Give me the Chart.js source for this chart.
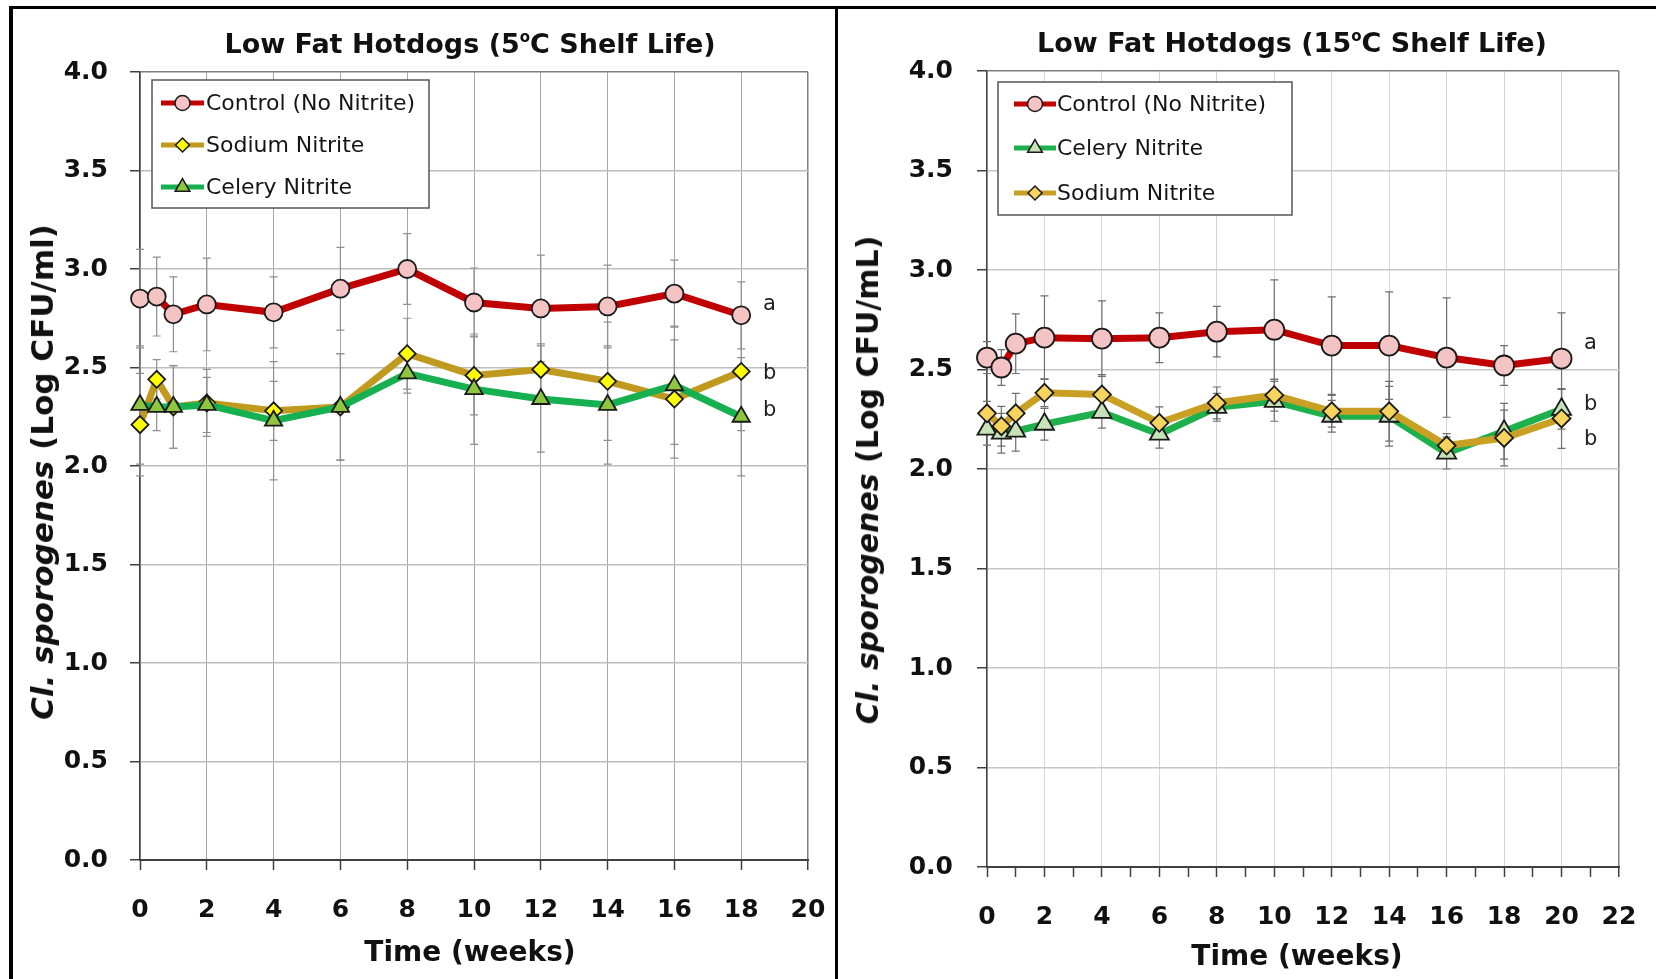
<!DOCTYPE html>
<html>
<head>
<meta charset="utf-8">
<script src="https://cdn.jsdelivr.net/npm/chart.js@4.4.1/dist/chart.umd.min.js"></script>
<style>
html,body{margin:0;padding:0;background:#fff;width:1656px;height:979px;overflow:hidden;}
canvas{position:absolute;top:0;}
.line{position:absolute;background:#000;}
.title{position:absolute;font-family:"DejaVu Sans";font-weight:bold;font-size:27px;line-height:27px;white-space:nowrap;transform:translateX(-50%);color:#111;}
.title sup{font-size:15px;line-height:0;position:relative;vertical-align:baseline;top:-11px;}
.xtitle{position:absolute;font-family:"DejaVu Sans";font-weight:bold;font-size:28px;line-height:28px;white-space:nowrap;transform:translateX(-50%);color:#111;}
.ytitle{position:absolute;font-family:"DejaVu Sans";font-weight:bold;font-size:30px;line-height:30px;white-space:nowrap;transform:translate(-50%,-50%) rotate(-90deg);color:#111;}
</style>
</head>
<body>
<canvas id="c5" width="836" height="979" style="left:0px;width:836px;height:979px;"></canvas>
<canvas id="c15" width="818" height="979" style="left:838px;width:818px;height:979px;"></canvas>

<div class="title" style="left:470px;top:30px;">Low Fat Hotdogs (5<sup>o</sup>C Shelf Life)</div>
<div class="title" style="left:1292px;top:29px;">Low Fat Hotdogs (15<sup>o</sup>C Shelf Life)</div>
<div class="xtitle" style="left:470px;top:938px;">Time (weeks)</div>
<div class="xtitle" style="left:1297px;top:942px;">Time (weeks)</div>
<div class="ytitle" style="left:42px;top:472px;font-size:31px;"><i>Cl. sporogenes</i> (Log CFU/ml)</div>
<div class="ytitle" style="left:868px;top:480px;"><i>Cl. sporogenes</i> (Log CFU/mL)</div>

<div class="line" style="left:9px;top:6px;width:1647px;height:3px;"></div>
<div class="line" style="left:9px;top:6px;width:4px;height:973px;"></div>
<div class="line" style="left:835px;top:6px;width:3px;height:973px;"></div>

<script>
// ---------- Data: 5 °C shelf life ----------
const weeks5   = [0, 0.5, 1, 2, 4, 6, 8, 10, 12, 14, 16, 18];
const control5 = [2.85, 2.86, 2.77, 2.82, 2.78, 2.90, 3.00, 2.83, 2.80, 2.81, 2.875, 2.765];
const sodium5  = [2.21, 2.44, 2.30, 2.32, 2.28, 2.30, 2.57, 2.46, 2.49, 2.43, 2.34, 2.48];
const celery5  = [2.31, 2.30, 2.30, 2.31, 2.23, 2.30, 2.47, 2.39, 2.34, 2.31, 2.41, 2.25];
const controlErr5 = [0.25, 0.20, 0.19, 0.235, 0.18, 0.21, 0.18, 0.175, 0.27, 0.21, 0.17, 0.17];
const sodiumErr5  = [0.26, 0.10, 0.21, 0.17, 0.15, 0.27, 0.18, 0.20, 0.13, 0.30, 0.30, 0.30];
const celeryErr5  = [0.30, 0.12, 0.21, 0.14, 0.30, 0.27, 0.10, 0.28, 0.27, 0.30, 0.30, 0.30];
const letters5 = ['a', 'b', 'b'];
const letterY5 = [2.82, 2.47, 2.28];
const letterX5 = 18.65;

// ---------- Data: 15 °C shelf life ----------
const weeks15   = [0, 0.5, 1, 2, 4, 6, 8, 10, 12, 14, 16, 18, 20];
const control15 = [2.56, 2.51, 2.63, 2.66, 2.655, 2.66, 2.69, 2.70, 2.62, 2.62, 2.56, 2.52, 2.555];
const celery15  = [2.20, 2.18, 2.19, 2.225, 2.285, 2.175, 2.31, 2.34, 2.265, 2.265, 2.08, 2.19, 2.30];
const sodium15  = [2.28, 2.215, 2.28, 2.383, 2.374, 2.232, 2.332, 2.371, 2.29, 2.29, 2.118, 2.156, 2.254];
const controlErr15 = [0.08, 0.09, 0.15, 0.21, 0.19, 0.125, 0.127, 0.25, 0.245, 0.27, 0.30, 0.10, 0.23];
const celeryErr15  = [0.08, 0.10, 0.10, 0.08, 0.08, 0.07, 0.07, 0.10, 0.08, 0.15, 0.08, 0.14, 0.10];
const sodiumErr15  = [0.06, 0.10, 0.10, 0.07, 0.10, 0.08, 0.08, 0.08, 0.08, 0.15, 0.06, 0.14, 0.15];
const letters15 = ['a', 'b', 'b'];
const letterY15 = [2.63, 2.324, 2.148];
const letterX15 = 20.78;

const yTickStep = 0.5;

Chart.defaults.font.family = 'DejaVu Sans';
Chart.defaults.color = '#111';

function pts(xs, ys) { return xs.map((x, i) => ({x: x, y: ys[i]})); }

function makeDs(label, xs, ys, errs, st) {
  return {
    label: label, data: pts(xs, ys), errors: errs,
    borderColor: st.line, backgroundColor: st.fill,
    pointBackgroundColor: st.fill, pointBorderColor: '#1a1a1a', pointBorderWidth: 1.8,
    pointRadius: st.r, pointHoverRadius: st.r, pointStyle: st.shape,
    borderWidth: 7, tension: 0, order: st.order, legendR: st.lr, clip: false
  };
}

function drawMarker(ctx, shape, x, y, r) {
  ctx.beginPath();
  if (shape === 'circle') { ctx.arc(x, y, r, 0, Math.PI * 2); }
  else if (shape === 'rectRot') { ctx.moveTo(x - r, y); ctx.lineTo(x, y - r); ctx.lineTo(x + r, y); ctx.lineTo(x, y + r); ctx.closePath(); }
  else if (shape === 'triangle') {
    for (let k = 0; k < 3; k++) {
      const a = k * 2 * Math.PI / 3;
      const px = x + Math.sin(a) * r, py = y - Math.cos(a) * r;
      if (k === 0) ctx.moveTo(px, py); else ctx.lineTo(px, py);
    }
    ctx.closePath();
  }
  ctx.fill(); ctx.stroke();
}

const errorBars = {
  id: 'errorBars',
  beforeDatasetsDraw(chart, args, opts) {
    const ctx = chart.ctx, xs = chart.scales.x, ys = chart.scales.y;
    ctx.save();
    ctx.strokeStyle = opts.color; ctx.lineWidth = 1.2;
    chart.data.datasets.forEach(ds => {
      if (!ds.errors) return;
      ds.data.forEach((p, i) => {
        const e = ds.errors[i];
        const px = xs.getPixelForValue(p.x);
        const y1 = ys.getPixelForValue(p.y + e), y2 = ys.getPixelForValue(p.y - e);
        ctx.beginPath();
        ctx.moveTo(px, y1); ctx.lineTo(px, y2);
        ctx.moveTo(px - 4, y1); ctx.lineTo(px + 4, y1);
        ctx.moveTo(px - 4, y2); ctx.lineTo(px + 4, y2);
        ctx.stroke();
      });
    });
    ctx.restore();
  }
};

const innerLegend = {
  id: 'innerLegend',
  afterDatasetsDraw(chart, args, opts) {
    const ctx = chart.ctx;
    ctx.save();
    const b = opts.box;
    ctx.fillStyle = '#fff'; ctx.fillRect(b[0], b[1], b[2], b[3]);
    ctx.strokeStyle = '#555'; ctx.lineWidth = 1.5; ctx.strokeRect(b[0], b[1], b[2], b[3]);
    chart.data.datasets.forEach((ds, i) => {
      const y = opts.rows[i];
      ctx.strokeStyle = ds.borderColor; ctx.lineWidth = 5; ctx.lineCap = 'butt';
      ctx.beginPath(); ctx.moveTo(opts.lineX[0], y); ctx.lineTo(opts.lineX[1], y); ctx.stroke();
      ctx.fillStyle = ds.pointBackgroundColor; ctx.strokeStyle = '#1a1a1a'; ctx.lineWidth = 1.5;
      drawMarker(ctx, ds.pointStyle, (opts.lineX[0] + opts.lineX[1]) / 2, y, ds.legendR);
      ctx.fillStyle = '#151515'; ctx.font = '22px "DejaVu Sans"'; ctx.textBaseline = 'middle'; ctx.textAlign = 'left';
      ctx.fillText(ds.label, opts.textX, y + 1);
    });
    ctx.restore();
  }
};

const sigLetters = {
  id: 'sigLetters',
  afterDatasetsDraw(chart, args, opts) {
    const ctx = chart.ctx, xs = chart.scales.x, ys = chart.scales.y;
    ctx.save();
    ctx.fillStyle = '#222'; ctx.font = '21px "DejaVu Sans"'; ctx.textBaseline = 'middle'; ctx.textAlign = 'left';
    opts.letters.forEach((t, i) => ctx.fillText(t, xs.getPixelForValue(opts.x), ys.getPixelForValue(opts.ys[i])));
    ctx.restore();
  }
};

function makeChart(id, datasets, cfg) {
  return new Chart(document.getElementById(id), {
    type: 'line',
    data: { datasets: datasets },
    options: {
      responsive: false, animation: false, devicePixelRatio: 1,
      layout: { autoPadding: false, padding: { left: 0, right: cfg.padRight, top: cfg.padTop, bottom: 0 } },
      plugins: {
        legend: { display: false }, tooltip: { enabled: false },
        errorBars: { color: cfg.errColor },
        innerLegend: cfg.legend,
        sigLetters: cfg.letters
      },
      scales: {
        x: {
          type: 'linear', min: 0, max: cfg.xMax,
          afterFit: s => { s.height = cfg.xAxisH; s.paddingLeft = 0; s.paddingRight = 0; },
          border: { display: true, color: '#404040', width: 2 },
          grid: {
            color: c => (c.tick.value % 2 !== 0 ? 'rgba(0,0,0,0)' : (c.tick.value === cfg.xMax ? '#7f7f7f' : cfg.vGrid)),
            lineWidth: c => (c.tick.value === cfg.xMax ? 1.5 : 1),
            tickColor: '#404040', tickLength: 10, tickWidth: 1.5
          },
          ticks: {
            stepSize: cfg.xStep, autoSkip: false, maxRotation: 0, padding: 25,
            font: { size: 25, weight: 'bold' }, color: '#111',
            callback: v => (v % 2 === 0 ? String(v) : '')
          }
        },
        y: {
          min: 0, max: 4,
          afterFit: s => { s.width = cfg.yAxisW; s.paddingTop = 0; s.paddingBottom = 0; },
          border: { display: true, color: '#404040', width: 1.5 },
          grid: {
            color: c => (c.tick.value === 4 ? '#7f7f7f' : cfg.hGrid),
            lineWidth: 1.5, tickColor: '#404040', tickLength: 10
          },
          ticks: {
            stepSize: yTickStep, padding: cfg.yPad,
            font: { size: 25, weight: 'bold' }, color: '#111',
            callback: v => v.toFixed(1)
          }
        }
      }
    },
    plugins: [errorBars, innerLegend, sigLetters]
  });
}

// 5 C chart (legend order: Control, Sodium, Celery; celery drawn on top)
makeChart('c5', [
  makeDs('Control (No Nitrite)', weeks5, control5, controlErr5, {line: '#C00000', fill: '#F4C4C4', shape: 'circle', r: 9, lr: 7.5, order: 2}),
  makeDs('Sodium Nitrite', weeks5, sodium5, sodiumErr5, {line: '#C09A1E', fill: '#FFFF00', shape: 'rectRot', r: 8.5, lr: 7, order: 1}),
  makeDs('Celery Nitrite', weeks5, celery5, celeryErr5, {line: '#16B050', fill: '#8DC63F', shape: 'triangle', r: 10, lr: 8.5, order: 0})
], {
  padRight: 28, padTop: 72, xAxisH: 119, yAxisW: 140, xMax: 20, xStep: 2, yPad: 22,
  vGrid: '#a8a8a8', hGrid: '#bdbdbd', errColor: '#8f8f8f',
  legend: { box: [152, 80, 277, 128], lineX: [161, 204], textX: 206, rows: [103, 145, 187] },
  letters: { letters: letters5, ys: letterY5, x: letterX5 }
});

// 15 C chart (legend order: Control, Celery, Sodium; sodium drawn on top)
makeChart('c15', [
  makeDs('Control (No Nitrite)', weeks15, control15, controlErr15, {line: '#C00000', fill: '#F4C4C4', shape: 'circle', r: 10, lr: 7.5, order: 2}),
  makeDs('Celery Nitrite', weeks15, celery15, celeryErr15, {line: '#1EB04C', fill: '#C8E2B8', shape: 'triangle', r: 11, lr: 8.5, order: 1}),
  makeDs('Sodium Nitrite', weeks15, sodium15, sodiumErr15, {line: '#C9A024', fill: '#F6D45E', shape: 'rectRot', r: 9, lr: 7, order: 0})
], {
  padRight: 37, padTop: 71, xAxisH: 112, yAxisW: 149, xMax: 22, xStep: 1, yPad: 24,
  vGrid: '#d6d6d6', hGrid: '#c6c6c6', errColor: '#6f6f6f',
  legend: { box: [160, 82, 294, 133], lineX: [176, 218], textX: 219, rows: [104, 148, 193] },
  letters: { letters: letters15, ys: letterY15, x: letterX15 }
});
</script>
</body>
</html>
